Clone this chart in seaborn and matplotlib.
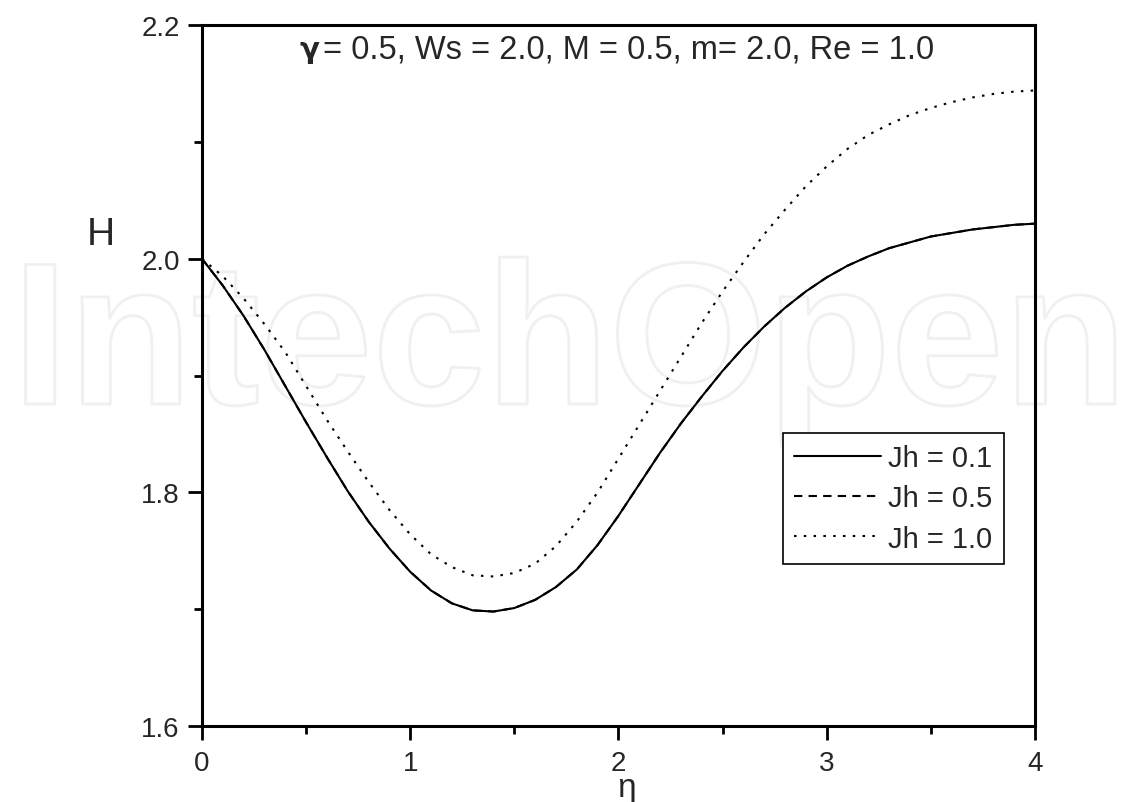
import matplotlib
matplotlib.use('Agg')
from matplotlib import pyplot as plt
import matplotlib.patheffects as pe
from matplotlib.ticker import MultipleLocator
import seaborn as sns
import pandas as pd

sns.set_style('ticks')
plt.rcParams['font.family'] = ['Liberation Sans', 'DejaVu Sans']

# values
eta = [0.0, 0.1, 0.2, 0.3, 0.4, 0.5, 0.6, 0.7, 0.8, 0.9, 1.0, 1.1, 1.2, 1.3, 1.4, 1.5,
       1.6, 1.7, 1.8, 1.9, 2.0, 2.1, 2.2, 2.3, 2.4, 2.5, 2.6, 2.7, 2.8, 2.9, 3.0,
       3.1, 3.2, 3.3, 3.4, 3.5, 3.6, 3.7, 3.8, 3.9, 4.0]
H_jh01 = [2.000, 1.977, 1.951, 1.922, 1.891, 1.860, 1.830, 1.801, 1.775, 1.752, 1.732,
          1.716, 1.705, 1.699, 1.698, 1.701, 1.708, 1.719, 1.734, 1.755, 1.780, 1.807,
          1.834, 1.859, 1.882, 1.904, 1.924, 1.942, 1.958, 1.972, 1.984,
          1.994, 2.002, 2.009, 2.014, 2.019, 2.022, 2.025, 2.027, 2.029, 2.030]
H_jh05 = list(H_jh01)  # hidden under the solid curve in the source
H_jh10 = [2.000, 1.985, 1.966, 1.944, 1.920, 1.891, 1.862, 1.835, 1.809, 1.785, 1.764,
          1.747, 1.736, 1.729, 1.728, 1.731, 1.739, 1.754, 1.775, 1.800, 1.829, 1.858,
          1.887, 1.916, 1.945, 1.972, 1.997, 2.021, 2.042, 2.062, 2.079,
          2.094, 2.106, 2.115, 2.123, 2.129, 2.134, 2.138, 2.141, 2.143, 2.144]
labels = ['Jh = 0.1', 'Jh = 0.5', 'Jh = 1.0']

df = pd.DataFrame({'eta': eta, 'Jh = 0.1': H_jh01, 'Jh = 0.5': H_jh05, 'Jh = 1.0': H_jh10})

fig = plt.figure(figsize=(11.43, 8.03), dpi=100)
ax = fig.add_axes([0.1767, 0.0946, 0.7288, 0.873])
ax.patch.set_alpha(0)

# watermark
fig.text(0.0105, 0.4956, 'IntechOpen', fontsize=146, fontweight='bold', color='white',
         ha='left', va='baseline', zorder=-5,
         path_effects=[pe.Stroke(linewidth=2, foreground='#f0f0f0')])

styles = {'Jh = 0.1': dict(linestyle='-'),
          'Jh = 0.5': dict(linestyle=(0, (4, 3))),
          'Jh = 1.0': dict(linestyle=(0, (1.2, 3.5)))}
order = ['Jh = 0.5', 'Jh = 0.1', 'Jh = 1.0']
for lab in order:
    sns.lineplot(data=df, x='eta', y=lab, ax=ax, color='black', lw=1.5, label=lab, **styles[lab])

ax.set_xlim(0, 4)
ax.set_ylim(1.6, 2.2)
ax.xaxis.set_major_locator(MultipleLocator(1))
ax.xaxis.set_minor_locator(MultipleLocator(0.5))
ax.yaxis.set_minor_locator(MultipleLocator(0.1))
ax.set_yticks([1.6, 1.8, 2.0, 2.2])
ax.set_yticklabels(['1.6', '1.8', '2.0', '2.2'])
ax.tick_params(axis='both', which='major', length=10, width=2, labelsize=20, color='black')
ax.tick_params(axis='both', which='minor', length=6, width=2, color='black')
ax.tick_params(axis='y', pad=6)
ax.tick_params(axis='x', pad=7)
for s in ax.spines.values():
    s.set_linewidth(2.2)
    s.set_color('black')

ax.set_xlabel('η', fontsize=24, va='top')
ax.xaxis.set_label_coords(0.510, -0.066)
ax.set_ylabel('H', fontsize=28, rotation=0, va='center', ha='center')
ax.yaxis.set_label_coords(-0.122, 0.702)

ax.text(0.1405, 0.966, 'γ', transform=ax.transAxes, ha='right', va='center',
        fontsize=21, fontweight='bold', family=['DejaVu Sans'])
ax.text(0.145, 0.966, '= 0.5, Ws = 2.0, M = 0.5, m= 2.0, Re = 1.0', transform=ax.transAxes,
        ha='left', va='center', fontsize=23.5)

handles, labs = ax.get_legend_handles_labels()
hmap = dict(zip(labs, handles))
leg = ax.legend([hmap[l] for l in labels], labels, loc='upper left', bbox_to_anchor=(0.697, 0.418),
                fontsize=21, frameon=True, fancybox=False, edgecolor='black', framealpha=1,
                handlelength=3.0, handletextpad=0.25, labelspacing=0.42, borderpad=0.38,
                borderaxespad=0)
leg.get_frame().set_linewidth(1.2)

fig.savefig('out.png', dpi=100)
